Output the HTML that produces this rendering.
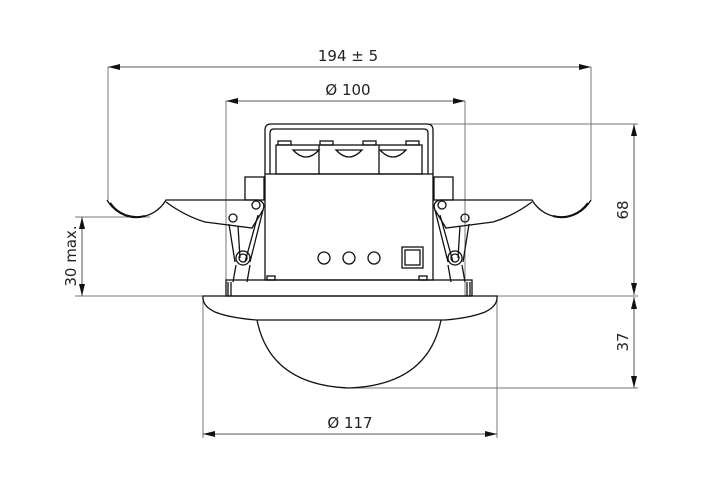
<!DOCTYPE html>
<html><head><meta charset="utf-8"><style>
html,body{margin:0;padding:0;background:#fff}
svg{display:block}
text{font-family:"DejaVu Sans","Liberation Sans",sans-serif;font-size:15px;fill:#222}
</style></head><body>
<svg width="720" height="489" viewBox="0 0 720 489" xmlns="http://www.w3.org/2000/svg">
<defs>
<marker id="a" viewBox="0 0 12 6" refX="12" refY="3" markerWidth="12" markerHeight="6" markerUnits="userSpaceOnUse" orient="auto-start-reverse"><path d="M12,3 L0,0 L0,6 Z" fill="#111"/></marker>
<g id="clip" fill="none" stroke="#111" stroke-width="1.3">
  <rect x="245" y="177" width="19" height="23"/>
  <path d="M107,200 A34,34 0 0 0 166,200 L258,200 Q266,202 263,210 L252,228 L205,222 Q185,216 166,202"/>
  <path d="M110,203 A32,32 0 0 0 145,216" stroke-width="2.2"/>
  <circle cx="256" cy="205" r="4"/>
  <circle cx="233" cy="218" r="4"/>
  <path d="M229,224 L235,262 M238,226 L240,258 M263,210 L250,262 M258,215 L245,262"/>
  <circle cx="243" cy="258" r="7"/>
  <circle cx="243" cy="258" r="4"/>
  <path d="M236,265 L233,282 M250,265 L247,282"/>
  <path d="M228,282 L228,296 M231,282 L231,296"/>
</g>
</defs>
<g stroke="#777" stroke-width="1" fill="none">
  <line x1="108" y1="67" x2="108" y2="200"/>
  <line x1="591" y1="67" x2="591" y2="200"/>
  <line x1="226" y1="101" x2="226" y2="296"/>
  <line x1="465" y1="101" x2="465" y2="296"/>
  <line x1="430" y1="124" x2="638" y2="124"/>
  <line x1="497" y1="296" x2="638" y2="296"/>
  <line x1="75" y1="296" x2="203" y2="296"/>
  <line x1="345" y1="388" x2="638" y2="388"/>
  <line x1="75" y1="217" x2="150" y2="217"/>
  <line x1="203" y1="300" x2="203" y2="438"/>
  <line x1="497" y1="300" x2="497" y2="438"/>
</g>
<g stroke="#555" stroke-width="1" marker-start="url(#a)" marker-end="url(#a)">
  <line x1="108" y1="67" x2="591" y2="67"/>
  <line x1="226" y1="101" x2="465" y2="101"/>
  <line x1="634" y1="124" x2="634" y2="295"/>
  <line x1="634" y1="297" x2="634" y2="388"/>
  <line x1="82" y1="217" x2="82" y2="296"/>
  <line x1="203" y1="434" x2="497" y2="434"/>
</g>
<text x="348" y="61" text-anchor="middle">194 ± 5</text>
<text x="348" y="95" text-anchor="middle">Ø 100</text>
<text x="350" y="428" text-anchor="middle">Ø 117</text>
<text transform="translate(628,210) rotate(-90)" text-anchor="middle">68</text>
<text transform="translate(628,342) rotate(-90)" text-anchor="middle">37</text>
<text transform="translate(76,256) rotate(-90)" text-anchor="middle">30 max.</text>
<g fill="none" stroke="#111" stroke-width="1.3">
  <path d="M265,174 L265,130 Q265,124 271,124 L427,124 Q433,124 433,130 L433,174"/>
  <path d="M270,174 L270,133 Q270,129 274,129 L424,129 Q428,129 428,133 L428,174"/>
  <rect x="276" y="145" width="146" height="29"/>
  <path d="M319,145 L319,174 M379,145 L379,174"/>
  <rect x="278" y="141" width="13" height="4"/><rect x="320" y="141" width="13" height="4"/><rect x="363" y="141" width="13" height="4"/><rect x="406" y="141" width="13" height="4"/>
  <path d="M293,150 Q306,164 319,150 Z M336,150 Q349,164 362,150 Z M380,150 Q393,164 406,150 Z"/>
  <rect x="265" y="174" width="168" height="106"/>
  <circle cx="324" cy="258" r="6"/><circle cx="349" cy="258" r="6"/><circle cx="374" cy="258" r="6"/>
  <rect x="402" y="247" width="21" height="21"/><rect x="405" y="250" width="15" height="15"/>
  <rect x="267" y="276" width="8" height="4"/><rect x="419" y="276" width="8" height="4"/>
  <rect x="226" y="280" width="246" height="16"/>
  <path d="M203,296 L497,296 Q498,306 485,312 Q470,318 445,320 L257,320 Q230,318 215,312 Q202,306 203,296 Z"/>
  <path d="M257,320 Q270,385 349,388 Q428,385 441,320"/>
</g>
<use href="#clip"/>
<use href="#clip" transform="translate(698,0) scale(-1,1)"/>
</svg>
</body></html>
